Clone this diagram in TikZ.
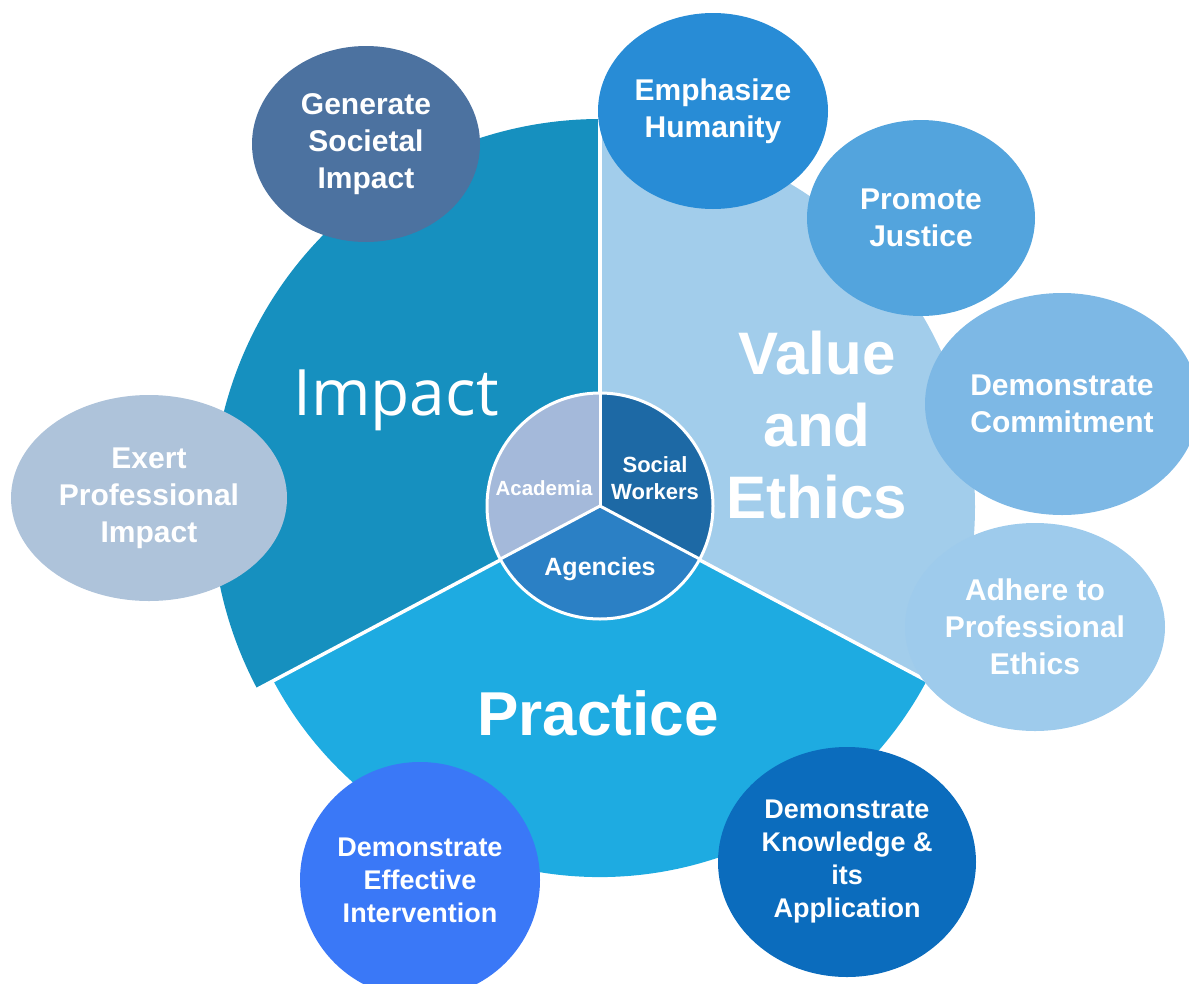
\documentclass[tikz,border=0pt]{standalone}
\usepackage{fontspec}
\setmainfont{Liberation Sans}
\newfontfamily\impactfont{Open Sans}
\usetikzlibrary{shapes.geometric}
\definecolor{cImpact}{HTML}{1690BF}
\definecolor{cValue}{HTML}{A2CDEB}
\definecolor{cPractice}{HTML}{1EABE1}
\definecolor{cGen}{HTML}{4C72A0}
\definecolor{cEmph}{HTML}{288CD6}
\definecolor{cProm}{HTML}{53A4DD}
\definecolor{cComm}{HTML}{7DB8E5}
\definecolor{cAdh}{HTML}{9ECBEC}
\definecolor{cExert}{HTML}{AEC3DA}
\definecolor{cEff}{HTML}{3A78F7}
\definecolor{cKnow}{HTML}{0B6CBD}
\definecolor{cAcad}{HTML}{A4B9DA}
\definecolor{cSocial}{HTML}{1D69A5}
\definecolor{cAgen}{HTML}{2B80C5}
\begin{document}
\begin{tikzpicture}[x=1pt,y=-1pt,
  bub/.style={ellipse, inner sep=0pt, text=white, align=center,
    font=\bfseries\fontsize{30}{37}\selectfont},
  bubsmall/.style={bub, font=\bfseries\fontsize{27}{33}\selectfont},
  sep/.style={white, line width=3.5pt},
  innersep/.style={white, line width=3pt},
  biglabel/.style={text=white, align=center}]
\useasboundingbox (0,0) rectangle (1189,983);
\coordinate (C) at (600,507);
\coordinate (c2) at (600,506);
% big sectors (TikZ angles with y pointing down)
\fill[cImpact] (C) -- +(152:388) arc[start angle=152, end angle=270, radius=388] -- cycle;
\fill[cValue] (C) -- +(-90:375) arc[start angle=-90, end angle=28, radius=375] -- cycle;
\fill[cPractice] (C) -- +(28:370) arc[start angle=28, end angle=152, radius=370] -- cycle;
\draw[sep] (C) -- +(-90:400);
\draw[sep] (C) -- +(152:395);
\draw[sep] (C) -- +(28:395);
% inner circle
\fill[cAcad] (c2) -- +(152:113) arc[start angle=152, end angle=270, radius=113] -- cycle;
\fill[cSocial] (c2) -- +(-90:113) arc[start angle=-90, end angle=28, radius=113] -- cycle;
\fill[cAgen] (c2) -- +(28:113) arc[start angle=28, end angle=152, radius=113] -- cycle;
\draw[innersep] (c2) -- +(-90:113);
\draw[innersep] (c2) -- +(152:113);
\draw[innersep] (c2) -- +(28:113);
\draw[innersep] (c2) circle[radius=113];
% big labels
\node[biglabel, anchor=base] (impact) at (396,415) {\impactfont\fontsize{64}{64}\selectfont Impact};
\node[biglabel, font=\bfseries\fontsize{60}{72}\selectfont] (value) at (817,425) {Value\\and\\Ethics};
\node[biglabel, anchor=base, font=\bfseries\fontsize{62}{62}\selectfont] (practice) at (598,735) {Practice};
% inner labels
\node[biglabel, font=\bfseries\fontsize{20.5}{24}\selectfont] (acad) at (544,488) {Academia};
\node[biglabel, font=\bfseries\fontsize{22}{27}\selectfont] (social) at (655,478) {Social\\Workers};
\node[biglabel, font=\bfseries\fontsize{25}{30}\selectfont] (agen) at (600,569) {Agencies};
% bubbles
\node[bub, fill=cGen, minimum width=228, minimum height=196] (gen) at (366,144) {Generate\\Societal\\Impact};
\node[bub, fill=cEmph, minimum width=230, minimum height=196] (emph) at (713,111) {Emphasize\\Humanity};
\node[bub, fill=cProm, minimum width=228, minimum height=196] (prom) at (921,218) {Promote\\Justice};
\node[bub, fill=cComm, minimum width=274, minimum height=222] (comm) at (1062,404) {Demonstrate\\Commitment};
\node[bub, fill=cAdh, minimum width=260, minimum height=208] (adh) at (1035,627) {Adhere to\\Professional\\Ethics};
\node[bub, fill=cExert, minimum width=276, minimum height=206] (exert) at (149,498) {Exert\\Professional\\Impact};
\node[bubsmall, fill=cEff, minimum width=240, minimum height=236] (eff) at (420,880) {Demonstrate\\Effective\\Intervention};
\node[bubsmall, fill=cKnow, minimum width=258, minimum height=230] (know) at (847,862) {Demonstrate\\Knowledge \&\\its\\Application};
\end{tikzpicture}
\end{document}
